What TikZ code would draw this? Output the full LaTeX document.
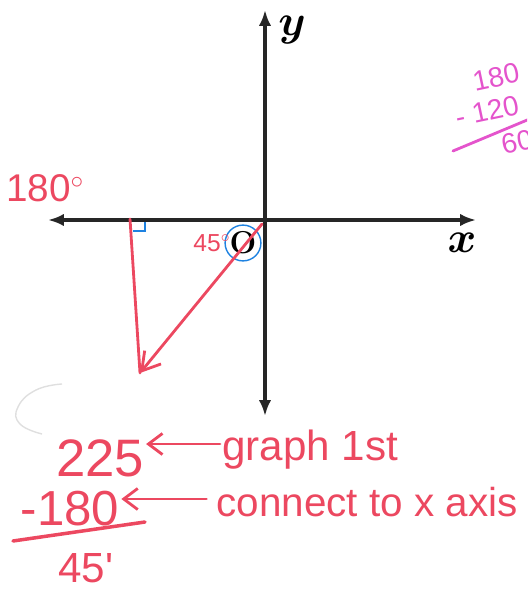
\documentclass[tikz,border=0pt]{standalone}
\usepackage{bm}
\usepackage{fontspec}
\newfontfamily\penfont{Liberation Sans}
\usetikzlibrary{arrows.meta}
\definecolor{redpen}{RGB}{236,72,96}
\definecolor{pinkpen}{RGB}{228,84,204}
\definecolor{bluepen}{RGB}{30,130,225}
\begin{document}
\begin{tikzpicture}[x=0.02cm, y=-0.02cm, >=latex,
		axis/.style={line width=2.2pt, black!85, {Latex[length=9pt,width=7pt]}-{Latex[length=9pt,width=7pt]}},
		redline/.style={line width=1.6pt, draw=redpen, line cap=round},
		note/.style={text=redpen, font=\penfont, inner sep=1pt},
		pinknote/.style={text=pinkpen, font=\penfont\fontsize{16}{16}\selectfont, inner sep=0pt, rotate=12}]
		\useasboundingbox (0,0) rectangle (527,591);
		\clip (0,0) rectangle (527,591);

		% axes
		\begin{scope}
			\coordinate (O) at (265,220);
			\coordinate (ytop) at (265,10);
			\coordinate (ybot) at (265,416);
			\coordinate (xleft) at (48,220);
			\coordinate (xright) at (476,220);
			\draw[axis] (ybot) -- (ytop);
			\draw[axis] (xleft) -- (xright);
			\node[font=\fontsize{26}{26}\selectfont] (ylab) at (292,30) {$\bm{y}$};
			\node[font=\fontsize{24}{24}\selectfont] (xlab) at (462,243) {$\bm{x}$};
			\node[circle, draw=bluepen, thick, inner sep=0.2pt, font=\bfseries\fontsize{18}{18}\selectfont] (orig) at (243,243) {O};
		\end{scope}

		% reference triangle
		\begin{scope}
			\coordinate (foot) at (130,219);
			\coordinate (P) at (140,373);
			\draw[redline] (foot) -- (P);
			\draw[redline, -{Straight Barb[length=10pt,width=12pt]}] (262,224) -- (P);
			\draw[bluepen, thick] (145,222) -- (145,231) -- (133,231);
			\node[note, font=\penfont\fontsize{14}{14}\selectfont] (angle) at (212,243) {45$^\circ$};
			\node[note, anchor=west, font=\penfont\fontsize{22}{22}\selectfont] (half) at (4,188) {180$^\circ$};
			\draw[gray!25, thick] plot[smooth, tension=0.8]
			coordinates {(62,384) (36,390) (18,407) (20,424) (42,434)};
		\end{scope}

		% side work
		\begin{scope}
			\node[pinknote] (top) at (496,77) {180};
			\node[pinknote] (sub) at (487,111) {- 120};
			\node[pinknote] (diff) at (517,142) {60};
			\draw[pinkpen, line width=1.6pt, line cap=round] (453,151) -- (532,118);
		\end{scope}

		% steps
		\begin{scope}
			\node[note, font=\penfont\fontsize{30}{30}\selectfont] (first) at (100,458) {225};
			\node[note, font=\penfont\fontsize{24}{24}\selectfont] (graph) at (310,450) {graph 1st};
			\draw[redline, -{Straight Barb[length=8pt,width=12pt]}] (graph.west) ++(0,-6) coordinate (ga) -- (ga -| first.east);
			\node[note, font=\penfont\fontsize{28}{28}\selectfont] (second) at (70,509) {-180};
			\node[note, font=\penfont\fontsize{23}{23}\selectfont] (connect) at (367,502) {connect to x axis};
			\draw[redline, -{Straight Barb[length=8pt,width=12pt]}] (connect.west) ++(-8,-3) coordinate (ca) -- (ca -| second.east);
			\draw[redline, line width=2pt] (13,541) -- (145,522);
			\node[note, font=\penfont\fontsize{24}{24}\selectfont] (result) at (86,568) {45'};
		\end{scope}
	\end{tikzpicture}
\end{document}
